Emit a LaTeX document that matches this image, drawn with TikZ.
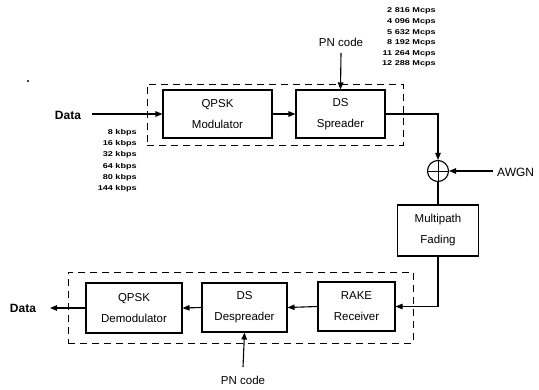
\documentclass[tikz,border=0pt]{standalone}
\usepackage{fontspec}
\setmainfont{Liberation Sans}
\usetikzlibrary{arrows.meta}
\begin{document}
\begin{tikzpicture}[x=1pt,y=-1pt,
  blk/.style={draw,line width=1.1pt,inner sep=0pt,align=center,font=\fontsize{11.5}{21}\selectfont},
  grp/.style={draw,dashed,line width=1pt,dash pattern=on 7pt off 5pt},
  arr/.style={line width=1.1pt,-{Triangle[length=7pt,width=5.5pt]}},
  ln/.style={line width=1.1pt},
  lbl/.style={inner sep=0pt,font=\fontsize{11.5}{13}\selectfont},
  rate/.style={inner sep=0pt,anchor=east,xscale=1.3,font=\bfseries\fontsize{7}{8}\selectfont}]
\useasboundingbox (0,0) rectangle (539,389);
% upper group
\node[grp,minimum width=256pt,minimum height=61pt] (tx) at (275,114.5) {};
\node[blk,minimum width=109pt,minimum height=48pt] (mod) at (217.5,114) {QPSK\\Modulator};
\node[blk,minimum width=89pt,minimum height=48pt] (spr) at (340.5,114) {DS\\Spreader};
% lower group
\node[grp,minimum width=345pt,minimum height=71pt] (rx) at (240.5,307.5) {};
\node[blk,minimum width=96pt,minimum height=50pt] (dem) at (134,308) {QPSK\\Demodulator};
\node[blk,minimum width=85pt,minimum height=49pt] (des) at (244.5,307.5) {DS\\Despreader};
\node[blk,minimum width=77pt,minimum height=49pt] (rak) at (356.5,306.5) {RAKE\\Receiver};
% channel
\node[draw,circle,line width=1.1pt,minimum size=21pt,inner sep=0pt] (sum) at (438,171) {};
\draw[line width=1pt] (sum.north) -- (sum.south) (sum.west) -- (sum.east);
\node[blk,minimum width=81pt,minimum height=51pt] (mpf) at (438,230.5) {Multipath\\Fading};
% labels
\node[lbl,font=\bfseries\fontsize{12}{13}\selectfont] (din) at (68,115) {Data};
\node[lbl,font=\bfseries\fontsize{12}{13}\selectfont] (dout) at (23,308) {Data};
\node[lbl] (pn1) at (341,42) {PN code};
\node[lbl] (pn2) at (243,380) {PN code};
\node[lbl,anchor=west,font=\fontsize{12}{13}\selectfont] (awgn) at (497,172) {AWGN};
% rates
\foreach \t [count=\i] in {8 kbps,16 kbps,32 kbps,64 kbps,80 kbps,144 kbps}
  \node[rate] (r\i) at (137,{121+11.3*\i}) {\t};
\foreach \t [count=\i] in {2 816 Mcps,4 096 Mcps,5 632 Mcps,8 192 Mcps,11 264 Mcps,12 288 Mcps}
  \node[rate] (m\i) at (436,{0.6+10.6*\i}) {\t};
% artifact dot
\fill (28,81) circle (1.1pt);
% connectors
\coordinate (pn1a) at (341,53);
\coordinate (pn2a) at (243,367);
\coordinate (dina) at (92,114);
\coordinate (douta) at (50,308);
\coordinate (awgna) at (493,171);
\draw[arr] (dina) -- (mod.west);
\draw[arr] (mod.east) -- (spr.west);
\draw[arr] (pn1a) -- (spr.north);
\draw[arr] (spr.east) -| (sum.north);
\draw[arr] (awgna) -- (sum.east);
\draw[ln] (sum.south) -- (mpf.north);
\draw[arr] (mpf.south) |- (rak.east);
\draw[arr] (rak.west) -- (des.east);
\draw[arr] (des.west) -- (dem.east);
\draw[arr] (dem.west) -- (douta);
\draw[arr] (pn2a) -- (des.south);
\end{tikzpicture}
\end{document}
